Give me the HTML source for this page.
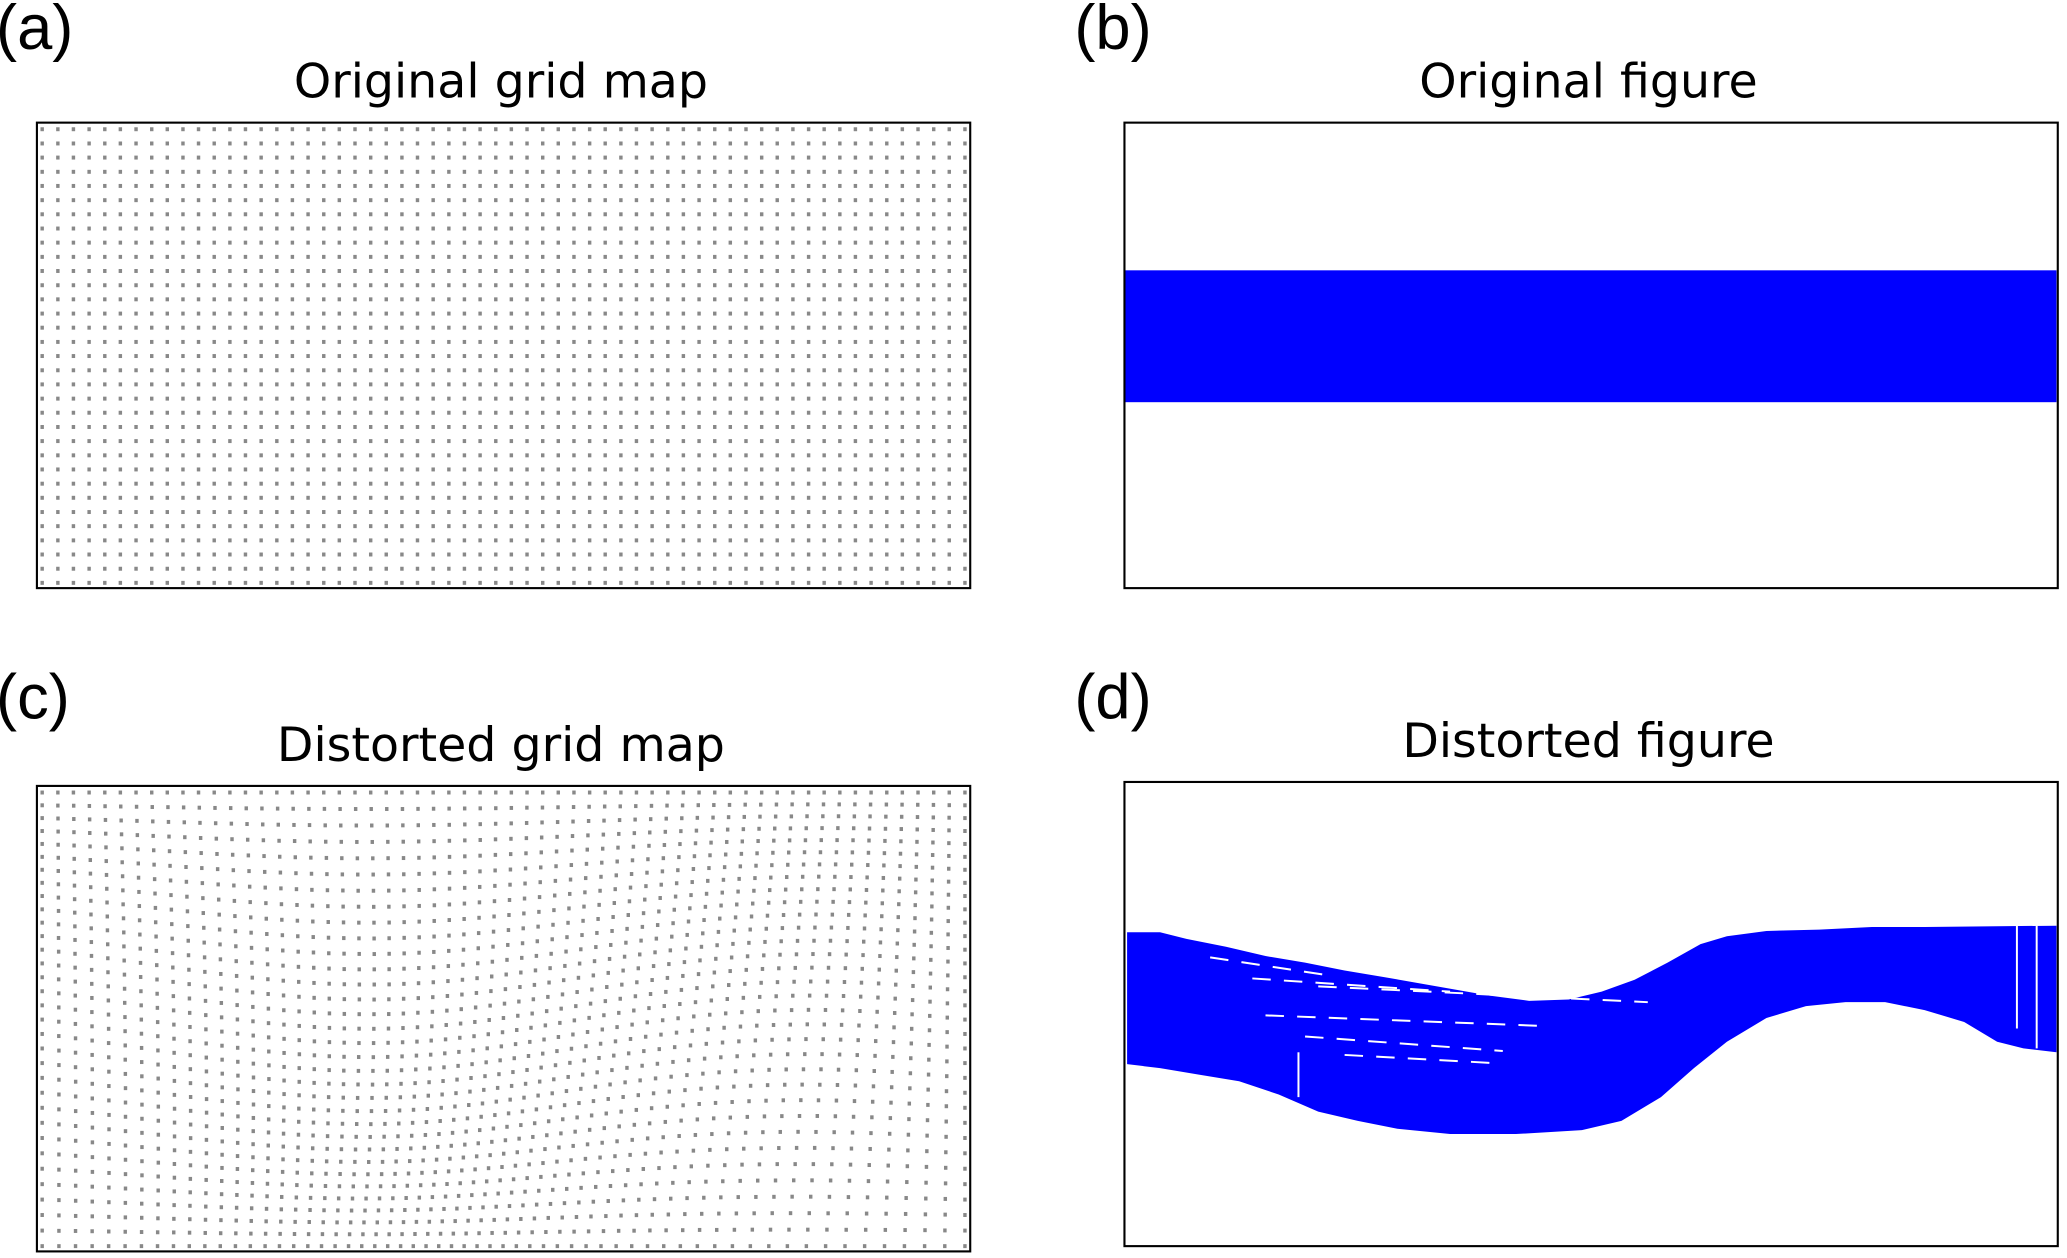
<!DOCTYPE html>
<html><head><meta charset="utf-8"><style>html,body{margin:0;padding:0;background:#fff}svg{display:block}</style></head>
<body>
<svg id="s" width="2067" height="1258" viewBox="0 0 1568 954" preserveAspectRatio="none" xmlns="http://www.w3.org/2000/svg">
<g font-family="Liberation Sans, sans-serif" font-size="48" fill="#000">
<text x="-3" y="37">(a)</text>
<text x="815" y="37">(b)</text>
<text x="-3" y="545">(c)</text>
<text x="815" y="545">(d)</text>
</g>
<g font-family="DejaVu Sans, sans-serif" font-size="36" fill="#000" text-anchor="middle">
<text x="380" y="74">Original grid map</text>
<text x="1205" y="74">Original figure</text>
<text x="380" y="577">Distorted grid map</text>
<text x="1205" y="574">Distorted figure</text>
</g>
<g id="ga"></g>
<g id="gc"></g>
<rect x="853" y="205" width="707" height="100" fill="#0000ff"/>
<polygon fill="#0000ff" points="855,707 880,707 900,712 930,718 960,725 990,730 1020,736 1050,741 1090,748 1130,755 1160,759 1190,758 1215,752 1240,743 1265,730 1290,716 1310,710 1340,706 1380,705 1420,703 1460,703 1560,702 1560,798 1535,795 1515,790 1490,775 1460,766 1430,760 1400,760 1370,763 1340,772 1310,790 1285,810 1260,832 1230,850 1200,857 1150,860 1100,860 1060,856 1030,850 1000,843 970,830 940,820 910,815 880,810 855,807"/>
<g stroke="#fff" stroke-width="1.5" stroke-dasharray="14,10">
<line x1="918" y1="726" x2="1010" y2="740"/><line x1="950" y1="742" x2="1100" y2="752"/>
<line x1="1000" y1="748" x2="1250" y2="760"/><line x1="960" y1="770" x2="1170" y2="778"/>
<line x1="990" y1="786" x2="1140" y2="797"/><line x1="1020" y1="800" x2="1130" y2="806"/>
</g>
<g stroke="#fff" stroke-width="1.5">
<line x1="985" y1="798" x2="985" y2="832"/><line x1="1530" y1="702" x2="1530" y2="780"/>
<line x1="1545" y1="702" x2="1545" y2="795"/>
</g>
<rect x="28" y="93" width="708" height="353" fill="none" stroke="#000" stroke-width="1.6"/>
<rect x="853" y="93" width="708" height="353" fill="none" stroke="#000" stroke-width="1.6"/>
<rect x="28" y="596" width="708" height="353" fill="none" stroke="#000" stroke-width="1.6"/>
<rect x="853" y="593" width="708" height="352" fill="none" stroke="#000" stroke-width="1.6"/>
</svg>
<script>
var NS="http://www.w3.org/2000/svg";
function dot(g,x,y){var r=document.createElementNS(NS,"rect");r.setAttribute("x",(x-1.3).toFixed(1));r.setAttribute("y",(y-1.5).toFixed(1));r.setAttribute("width","2.6");r.setAttribute("height","3");r.setAttribute("fill","#888");g.appendChild(r);}
var ga=document.getElementById("ga"),gc=document.getElementById("gc");
var nc=60,nr=33;
for(var i=0;i<nc;i++)for(var j=0;j<nr;j++){
 var u=i/(nc-1),v=j/(nr-1);
 dot(ga,32+u*700,98+v*344);
 var x=32+u*700,y=601+v*344;
 var dx=-25*Math.sin(Math.PI*u)*v*v+ 20*Math.sin(2*Math.PI*u)*v;
 var dy=18*Math.sin(2*Math.PI*(u-0.1))*Math.sin(Math.PI*v);
 var X=x+dx,Y=y+dy;
 if(X>30&&X<734&&Y>598&&Y<947)dot(gc,X,Y);
}
</script>
</body></html>
